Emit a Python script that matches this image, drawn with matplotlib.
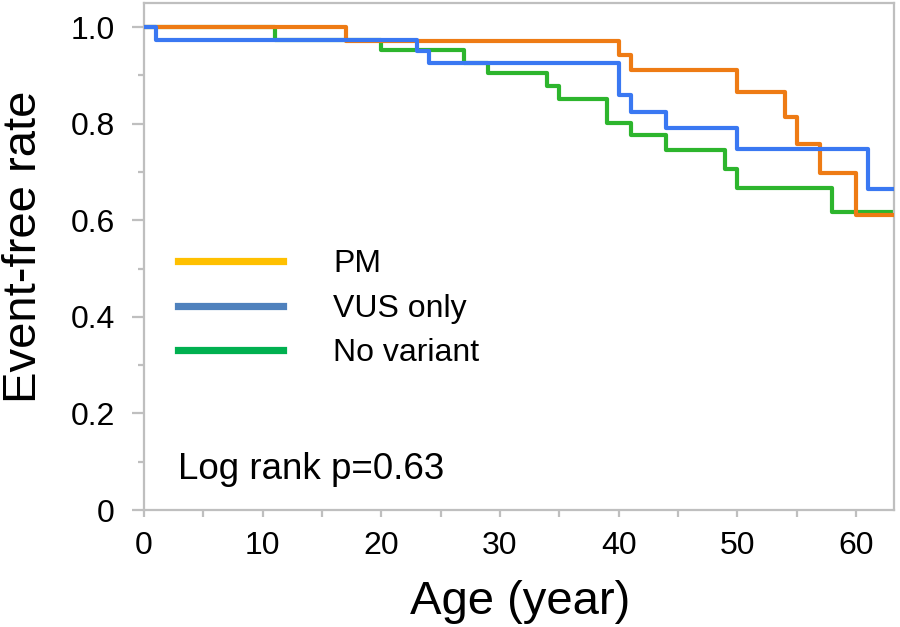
import matplotlib
matplotlib.use("Agg")
import matplotlib.pyplot as plt
from matplotlib.lines import Line2D
from matplotlib.ticker import MultipleLocator, FixedLocator

plt.rcParams['font.family'] = ['Liberation Sans', 'DejaVu Sans']

# ---- data ----
pm_time = [0, 17, 40, 41, 50, 54, 55, 57, 60, 64]
pm_surv = [1.0, 0.972, 0.943, 0.911, 0.866, 0.814, 0.759, 0.697, 0.611, 0.611]

vus_time = [0, 1, 23, 24, 40, 41, 44, 50, 61, 64]
vus_surv = [1.0, 0.974, 0.950, 0.926, 0.859, 0.825, 0.792, 0.747, 0.664, 0.664]

nov_time = [0, 11, 20, 27, 29, 34, 35, 39, 41, 44, 49, 50, 58, 64]
nov_surv = [1.0, 0.974, 0.952, 0.926, 0.904, 0.878, 0.852, 0.802, 0.776, 0.745,
            0.707, 0.667, 0.618, 0.618]

series_labels = ["PM", "VUS only", "No variant"]
line_colors = {"PM": "#EE7B14", "VUS only": "#3A78F2", "No variant": "#2DB52D"}
legend_colors = {"PM": "#FFC000", "VUS only": "#4F81BD", "No variant": "#00B050"}

x_ticks = [0, 10, 20, 30, 40, 50, 60]
y_ticks = [0, 0.2, 0.4, 0.6, 0.8, 1.0]
y_tick_labels = ["0", "0.2", "0.4", "0.6", "0.8", "1.0"]
p_text = "Log rank p=0.63"

# ---- figure ----
W, H = 900, 627
fig = plt.figure(figsize=(9, 6.27), dpi=100)
ax = fig.add_axes([144 / W, 1 - 510 / H, (894 - 144) / W, (510 - 3) / H])

lw = 3.0
ax.step(nov_time, nov_surv, where='post', color=line_colors["No variant"], lw=lw, zorder=2)
ax.step(pm_time, pm_surv, where='post', color=line_colors["PM"], lw=lw, zorder=3)
ax.step(vus_time, vus_surv, where='post', color=line_colors["VUS only"], lw=lw, zorder=4)

ax.set_xlim(0, 63.2)
ax.set_ylim(0, 1.05)

spine_c = "#BFBFBF"
for s in ax.spines.values():
    s.set_color(spine_c)
    s.set_linewidth(1.6)

ax.xaxis.set_major_locator(FixedLocator(x_ticks))
ax.xaxis.set_minor_locator(MultipleLocator(5))
ax.yaxis.set_major_locator(FixedLocator(y_ticks))
ax.set_yticklabels(y_tick_labels)
ax.yaxis.set_minor_locator(MultipleLocator(0.1))

ax.tick_params(axis='x', which='both', direction='out', length=5, width=1.6,
               color=spine_c, labelsize=23, pad=10)
ax.tick_params(axis='y', which='major', direction='out', length=9, width=1.6,
               color=spine_c, labelsize=23, pad=12)
ax.tick_params(axis='y', which='minor', direction='out', length=4.5, width=1.6,
               color=spine_c)
ax.tick_params(axis='both', which='both', top=False, right=False)

fig.text(24 / W, 1 - 247 / H, "Event-free rate", rotation=90, ha='center',
         va='center', fontsize=34)
fig.text(520 / W, 1 - 602 / H, "Age (year)", ha='center', va='center', fontsize=34)

ax.text(0.045, 0.061, p_text, transform=ax.transAxes, fontsize=26.5,
        ha='left', va='baseline')

handles = [Line2D([], [], color=legend_colors[k], lw=5.2) for k in series_labels]
leg = ax.legend(handles, series_labels, loc='upper left',
                bbox_to_anchor=((178 - 144) / 750, (510 - 249) / 507),
                frameon=False, fontsize=23, handlelength=3.3, handletextpad=1.55,
                labelspacing=0.46, borderpad=0, borderaxespad=0)

fig.savefig("out.png", dpi=100)
